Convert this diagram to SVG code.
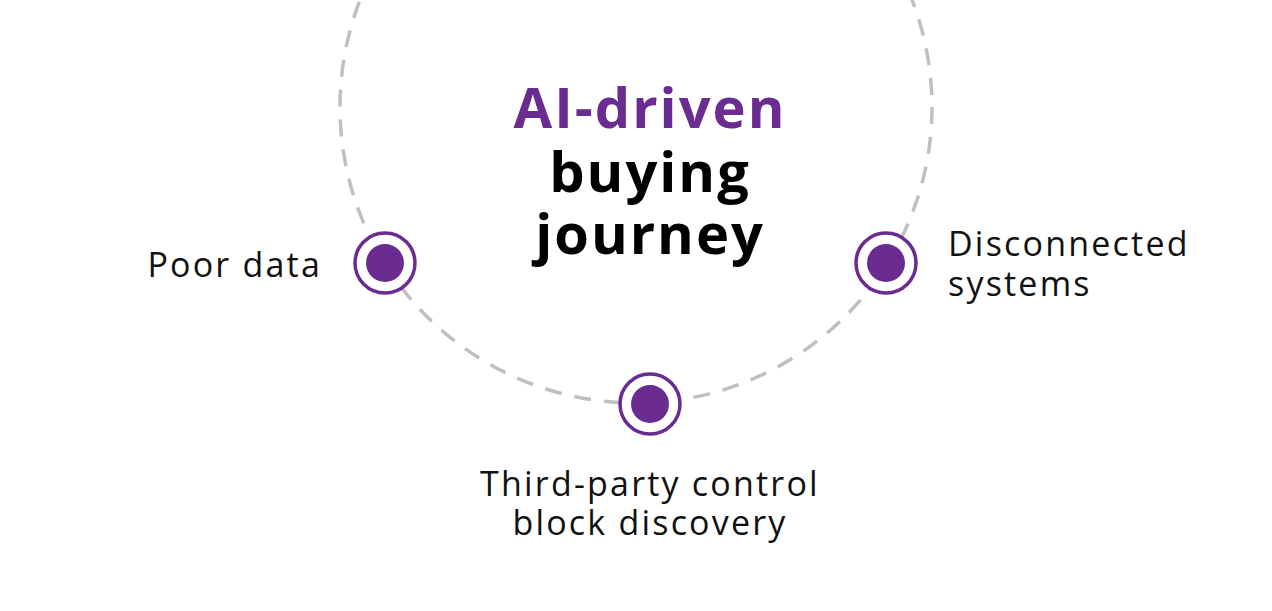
<svg xmlns="http://www.w3.org/2000/svg" width="1272" height="611" viewBox="0 0 1272 611">
<style>
.lbl{font-family:"Open Sans","Liberation Sans",sans-serif;font-size:34px;fill:#111;letter-spacing:2.2px}
.ttl{font-family:"Open Sans","Liberation Sans",sans-serif;font-size:56px;font-weight:bold;text-anchor:middle;letter-spacing:2px}
.ring{fill:#fff;stroke:#6a2c91;stroke-width:3.5}
.dot{fill:#6a2c91}
</style>
<rect width="1272" height="611" fill="#fff"/>
<g id="connectors">
<circle cx="636" cy="107" r="296" fill="none" stroke="#c0c0c0" stroke-width="3.5" stroke-dasharray="17 13"/>
</g>
<g id="title">
<text class="ttl" x="650" y="128" fill="#6a2c91">AI-driven</text>
<text class="ttl" x="650" y="192" fill="#000">buying</text>
<text class="ttl" x="650" y="254" fill="#000">journey</text>
</g>
<g id="poor-data">
<circle class="ring" cx="385" cy="263" r="30"/><circle class="dot" cx="385" cy="263" r="19"/>
<text class="lbl" x="322" y="277" text-anchor="end">Poor data</text>
</g>
<g id="disconnected">
<circle class="ring" cx="886" cy="263" r="30"/><circle class="dot" cx="886" cy="263" r="19"/>
<text class="lbl" x="948" y="256">Disconnected</text>
<text class="lbl" x="948" y="296">systems</text>
</g>
<g id="third-party">
<circle class="ring" cx="650" cy="404" r="30"/><circle class="dot" cx="650" cy="404" r="19"/>
<text class="lbl" x="650" y="496" text-anchor="middle">Third-party control</text>
<text class="lbl" x="650" y="535" text-anchor="middle">block discovery</text>
</g>
</svg>
